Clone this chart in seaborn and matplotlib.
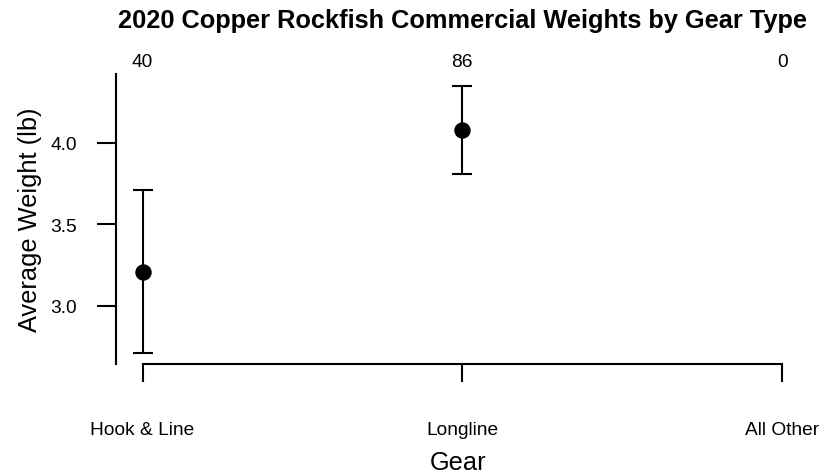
import numpy as np
import pandas as pd
import seaborn as sns
import matplotlib.pyplot as plt

# values
gears = ['Hook & Line', 'Longline', 'All Other']
counts = [40, 86, 0]
mean_weight = [3.21, 4.08]
half_interval = [0.50, 0.27]

sns.set_style('white')
plt.rcParams['font.family'] = ['Liberation Sans', 'DejaVu Sans']
plt.rcParams['text.color'] = 'black'
plt.rcParams['axes.labelcolor'] = 'black'
plt.rcParams['xtick.color'] = 'black'
plt.rcParams['ytick.color'] = 'black'

df = pd.DataFrame({'pos': np.arange(len(mean_weight)),
                   'weight': mean_weight,
                   'err': half_interval})

fig = plt.figure(figsize=(8.25, 4.77), dpi=100)
ax = fig.add_axes([116 / 825, 112 / 477, 684 / 825, 290 / 477])

ax.errorbar(df['pos'], df['weight'], yerr=df['err'], fmt='none',
            ecolor='black', elinewidth=1.5, capsize=7, capthick=1.5)
sns.scatterplot(data=df, x='pos', y='weight', ax=ax, color='black',
                s=140, edgecolor='black', linewidth=0, zorder=3)

ax.set_xlim(-0.083, 2.056)
ax.set_ylim(2.644, 4.423)

for sp in ['top', 'right']:
    ax.spines[sp].set_visible(False)
for sp in ['left', 'bottom']:
    ax.spines[sp].set_linewidth(1.5)
    ax.spines[sp].set_color('black')
ax.spines['bottom'].set_bounds(0, len(gears) - 1)

ax.set_xticks(range(len(gears)))
ax.set_xticklabels(gears, fontsize=13.8)
ax.set_yticks([3.0, 3.5, 4.0])
ax.set_yticklabels(['3.0', '3.5', '4.0'], fontsize=13.8)
ax.tick_params(axis='x', direction='out', length=13, width=1.5, pad=28,
               bottom=True)
ax.tick_params(axis='y', direction='out', length=14, width=1.5, pad=14,
               left=True)

ax.set_xlabel('Gear', fontsize=18.3, labelpad=9)
ax.set_ylabel('Average Weight (lb)', fontsize=18.3, labelpad=6)

# sample sizes above each gear
for i, n in enumerate(counts):
    ax.text(i, 1.014, str(n), transform=ax.get_xaxis_transform(),
            ha='center', va='bottom', fontsize=13.8)

fig.text(462 / 825, 1 - 21 / 477,
         '2020 Copper Rockfish Commercial Weights by Gear Type',
         ha='center', va='center', fontsize=18.3, fontweight='bold')

fig.savefig('out.png', dpi=100)
